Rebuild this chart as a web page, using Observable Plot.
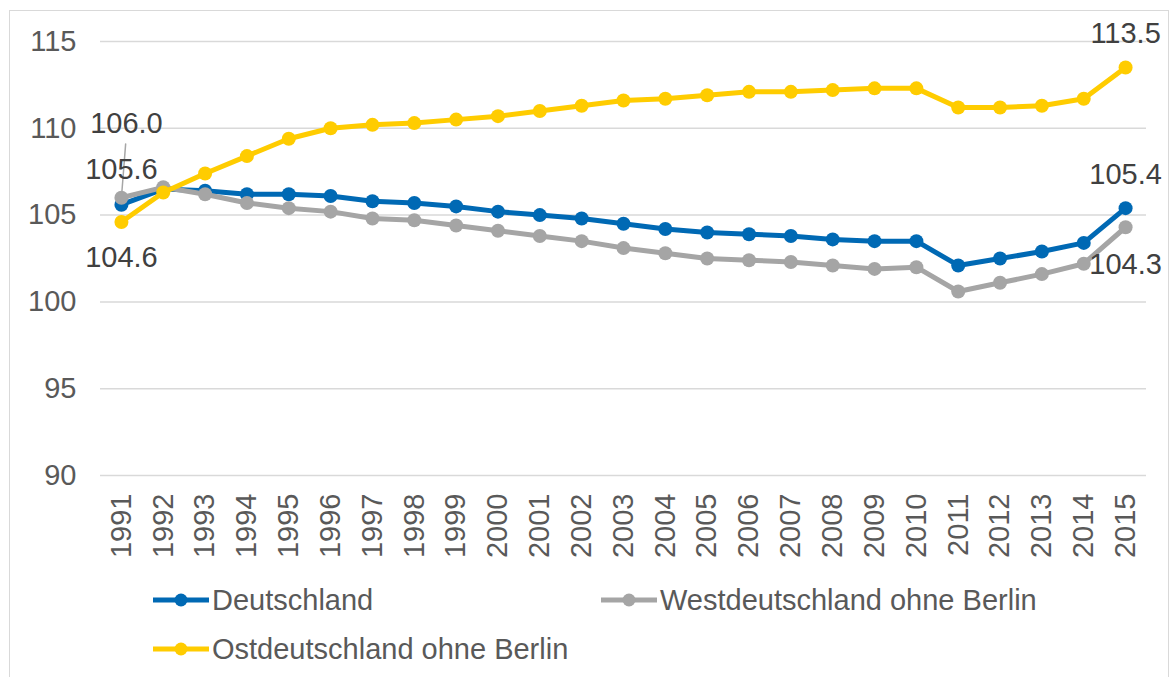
<!DOCTYPE html>
<html><head><meta charset="utf-8">
<script src="https://cdn.jsdelivr.net/npm/d3@7"></script>
<script src="https://cdn.jsdelivr.net/npm/@observablehq/plot@0.6"></script>
<style>
html,body{margin:0;padding:0;background:#fff;width:1170px;height:677px;overflow:hidden;font-family:"Liberation Sans",Arial,sans-serif;}
#frame{position:absolute;left:9px;top:10px;width:1160px;height:720px;border:1px solid #d9d9d9;box-sizing:border-box;}
#chart{position:absolute;left:0;top:0;}
#legend{position:absolute;left:0;top:560px;width:1170px;height:117px;}
.item{position:absolute;height:40px;display:flex;align-items:center;font-size:29px;color:#595959;white-space:nowrap;}
.item svg{margin-right:3px;}
</style></head><body>
<div id="frame"></div><div id="chart"></div><div id="legend"></div>
<script>
const years = [1991,1992,1993,1994,1995,1996,1997,1998,1999,2000,2001,2002,2003,2004,2005,2006,2007,2008,2009,2010,2011,2012,2013,2014,2015];
const seriesNames = ["Deutschland","Westdeutschland ohne Berlin","Ostdeutschland ohne Berlin"];
const seriesColors = ["#0069b4","#a5a5a5","#ffcc00"];
const deutschland = [105.6,106.5,106.4,106.2,106.2,106.1,105.8,105.7,105.5,105.2,105.0,104.8,104.5,104.2,104.0,103.9,103.8,103.6,103.5,103.5,102.1,102.5,102.9,103.4,105.4];
const west = [106.0,106.6,106.2,105.7,105.4,105.2,104.8,104.7,104.4,104.1,103.8,103.5,103.1,102.8,102.5,102.4,102.3,102.1,101.9,102.0,100.6,101.1,101.6,102.2,104.3];
const ost = [104.6,106.3,107.4,108.4,109.4,110.0,110.2,110.3,110.5,110.7,111.0,111.3,111.6,111.7,111.9,112.1,112.1,112.2,112.3,112.3,111.2,111.2,111.3,111.7,113.5];
const yTicks = [90,95,100,105,110,115];

const seriesValues = [deutschland, west, ost];
const rows = seriesValues.map((vals, i) => years.map((yr, j) => ({series: seriesNames[i], year: yr, value: vals[j]})));
const [dRows, wRows, oRows] = rows;
const first = r => [r[0]];
const last = r => [r[r.length - 1]];
const fmt = d => d.value.toFixed(1);
const txt = {x: "year", y: "value", text: fmt, fill: "#404040", fontSize: 29};

const leader = {draw(ctx, l) { ctx.moveTo(0, 0); ctx.lineTo(0, -l); }};

const chart = Plot.plot({
  width: 1170, height: 560,
  marginLeft: 100, marginRight: 24, marginTop: 41, marginBottom: 85,
  style: {background: "transparent", fontFamily: "'Liberation Sans', Arial, sans-serif", color: "#595959", overflow: "visible"},
  x: {type: "point", domain: years, padding: 0.5, round: false, label: null},
  y: {domain: [90, 115], label: null},
  marks: [
    Plot.gridY(yTicks, {stroke: "#d9d9d9", strokeOpacity: 1, strokeWidth: 1.5}),
    Plot.axisY(yTicks, {tickSize: 0, tickPadding: 24, fontSize: 29, label: null, fill: "#595959"}),
    Plot.axisX(years, {tickSize: 0, tickPadding: 18, tickRotate: -90, fontSize: 29, label: null, fill: "#595959", tickFormat: d => String(d)}),
    Plot.line(dRows, {x: "year", y: "value", stroke: seriesColors[0], strokeWidth: 5}),
    Plot.dot(dRows, {x: "year", y: "value", fill: seriesColors[0], r: 7}),
    Plot.line(wRows, {x: "year", y: "value", stroke: seriesColors[1], strokeWidth: 5}),
    Plot.vector(first(wRows), {x: "year", y: "value", length: 54, rotate: 4.5, anchor: "start", shape: leader, stroke: "#a6a6a6", strokeWidth: 1.5}),
    Plot.dot(wRows, {x: "year", y: "value", fill: seriesColors[1], r: 7}),
    Plot.line(oRows, {x: "year", y: "value", stroke: seriesColors[2], strokeWidth: 5}),
    Plot.dot(oRows, {x: "year", y: "value", fill: seriesColors[2], r: 7}),
    Plot.text(first(dRows), {...txt, dy: -35}),
    Plot.text(first(wRows), {...txt, dy: -74, dx: 5}),
    Plot.text(first(oRows), {...txt, dy: 36}),
    Plot.text(last(oRows), {...txt, dy: -34}),
    Plot.text(last(dRows), {...txt, dy: -33}),
    Plot.text(last(wRows), {...txt, dy: 37})
  ]
});
document.getElementById("chart").appendChild(chart);

// legend
const legendPos = [{left: 153, top: 20}, {left: 601, top: 20}, {left: 153, top: 69}];
const legend = d3.select("#legend");
seriesNames.forEach((name, i) => {
  const item = legend.append("div").attr("class", "item")
    .style("left", legendPos[i].left + "px").style("top", legendPos[i].top + "px");
  const s = item.append("svg").attr("width", 56).attr("height", 16);
  s.append("line").attr("x1", 0).attr("x2", 56).attr("y1", 8).attr("y2", 8)
    .attr("stroke", seriesColors[i]).attr("stroke-width", 5).attr("stroke-linecap", "round");
  s.append("circle").attr("cx", 28).attr("cy", 8).attr("r", 6.5).attr("fill", seriesColors[i]);
  item.append("span").text(name);
});
</script>
</body></html>
